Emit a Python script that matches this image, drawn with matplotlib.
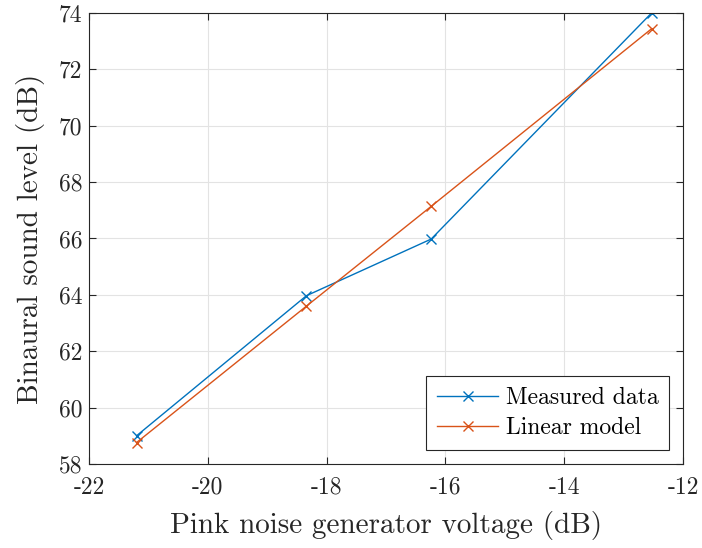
import numpy as np
import matplotlib.pyplot as plt

plt.rcParams.update({
    'font.family': 'serif',
    'font.serif': ['cmr10'],
    'mathtext.fontset': 'cm',
    'axes.unicode_minus': False,
    'axes.formatter.use_mathtext': True,
})

BLUE = '#0072BD'
ORANGE = '#D95319'

voltage = [-21.2, -18.34, -16.24, -12.53]
measured = [59.0, 63.97, 65.98, 74.0]
linear = [58.76, 63.6, 67.14, 73.44]

xticks = [-22, -20, -18, -16, -14, -12]
yticks = [58, 60, 62, 64, 66, 68, 70, 72, 74]

fig = plt.figure(figsize=(7.02, 5.48), dpi=100)
ax = fig.add_axes([0.1268, 0.1533, 0.8462, 0.823])

ax.plot(voltage, measured, color=BLUE, linewidth=1.0, marker='x',
        markersize=7, markeredgewidth=1.0, label='Measured data')
ax.plot(voltage, linear, color=ORANGE, linewidth=1.0, marker='x',
        markersize=7, markeredgewidth=1.0, label='Linear model')

ax.set_xlim(-22, -12)
ax.set_ylim(58, 74)
ax.set_xticks(xticks)
ax.set_xticklabels([str(t) for t in xticks])
ax.set_yticks(yticks)
ax.set_yticklabels([str(t) for t in yticks])
ax.tick_params(direction='in', length=5, width=0.8, colors='#262626',
               labelsize=17, top=True, right=True, labelcolor='#262626')
ax.tick_params(axis='x', pad=9)
ax.tick_params(axis='y', pad=5)
ax.grid(True, color='#e3e3e3', linewidth=0.8)
ax.set_axisbelow(True)
for s in ax.spines.values():
    s.set_color('#262626')
    s.set_linewidth(0.8)

ax.set_xlabel('Pink noise generator voltage (dB)', fontsize=21, color='#262626',
              labelpad=9)
ax.set_ylabel('Binaural sound level (dB)', fontsize=21, color='#262626',
              labelpad=10)

leg = ax.legend(loc='lower right', fontsize=17, fancybox=False,
                framealpha=1, edgecolor='#262626', borderaxespad=0.6,
                handlelength=2.6, handletextpad=0.3, borderpad=0.45,
                labelspacing=0.35)
leg.get_frame().set_linewidth(0.8)

fig.savefig('out.png', dpi=100)
